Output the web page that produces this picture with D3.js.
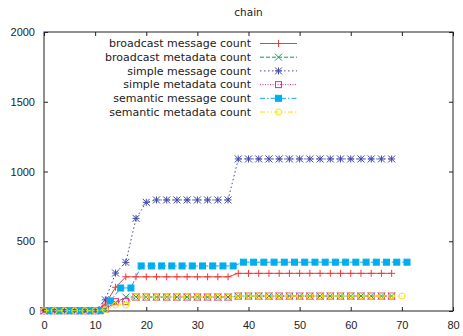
<!DOCTYPE html>
<html>
<head>
<meta charset="utf-8">
<script src="https://cdn.jsdelivr.net/npm/d3@7"></script>
<style>
  body { margin: 0; background: #fff; }
  svg { display: block; font-family: "DejaVu Sans", sans-serif; }
</style>
</head>
<body>
<svg id="chart" width="463" height="336"></svg>
<script>
const xTicks = [0, 10, 20, 30, 40, 50, 60, 70, 80];
const yTicks = [0, 500, 1000, 1500, 2000];

// sample times (even seconds for most series, odd for semantic messages)
const evenX = [0, 2, 4, 6, 8, 10, 12, 14, 16, 18, 20, 22, 24, 26, 28, 30, 32, 34,
  36, 38, 40, 42, 44, 46, 48, 50, 52, 54, 56, 58, 60, 62, 64, 66, 68];
const evenX70 = evenX.concat([70]);
const oddX = [1, 3, 5, 7, 9, 11, 13, 15, 17, 19, 21, 23, 25, 27, 29, 31, 33, 35,
  37, 39, 41, 43, 45, 47, 49, 51, 53, 55, 57, 59, 61, 63, 65, 67, 69, 71];

const broadcastMessage = [2, 2, 2, 2, 2, 2, 50, 170, 245, 245, 245, 245, 245, 245, 245, 245, 245, 245,
  245, 270, 270, 270, 270, 270, 270, 270, 270, 270, 270, 270, 270, 270, 270, 270, 270];
const broadcastMetadata = [2, 2, 2, 2, 2, 2, 15, 60, 100, 100, 100, 100, 100, 100, 100, 100, 100, 100,
  100, 107, 107, 107, 107, 107, 107, 107, 107, 107, 107, 107, 107, 107, 107, 107, 107];
const simpleMessage = [2, 2, 2, 2, 2, 2, 80, 272, 349, 664, 779, 796, 796, 796, 796, 796, 796, 796,
  796, 1090, 1090, 1090, 1090, 1090, 1090, 1090, 1090, 1090, 1090, 1090, 1090, 1090, 1090, 1090, 1090];
const simpleMetadata = [2, 2, 2, 2, 2, 2, 15, 67, 67, 100, 100, 100, 100, 100, 100, 100, 100, 100,
  100, 107, 107, 107, 107, 107, 107, 107, 107, 107, 107, 107, 107, 107, 107, 107, 107];
const semanticMessage = [2, 2, 2, 2, 2, 2, 72, 165, 165, 323, 323, 323, 323, 323, 323, 323, 323, 323,
  323, 350, 350, 350, 350, 350, 350, 350, 350, 350, 350, 350, 350, 350, 350, 350, 350, 350];
const semanticMetadata = [2, 2, 2, 2, 2, 2, 10, 43, 43, 100, 100, 100, 100, 100, 100, 100, 100, 100,
  100, 107, 107, 107, 107, 107, 107, 107, 107, 107, 107, 107, 107, 107, 107, 107, 107, 107];

const seriesNames = ['broadcast message count', 'broadcast metadata count', 'simple message count',
  'simple metadata count', 'semantic message count', 'semantic metadata count'];

const series = [
  { name: seriesNames[0], xs: evenX, ys: broadcastMessage, color: '#ef3b39', dash: null, mark: 'plus' },
  { name: seriesNames[1], xs: evenX, ys: broadcastMetadata, color: '#00a651', dash: '4,2', mark: 'cross' },
  { name: seriesNames[2], xs: evenX, ys: simpleMessage, color: '#3f48a8', dash: '1.5,2.5', mark: 'star' },
  { name: seriesNames[3], xs: evenX, ys: simpleMetadata, color: '#ec2a90', dash: '1,1.5', mark: 'square' },
  { name: seriesNames[4], xs: oddX, ys: semanticMessage, color: '#00aeef', dash: '5,2,1.5,2', mark: 'box' },
  { name: seriesNames[5], xs: evenX70, ys: semanticMetadata, color: '#f2e600', dash: '5,2,1.5,2,1.5,2', mark: 'circle' },
];

const svg = d3.select('#chart');
const margin = { left: 44, right: 10, top: 32, bottom: 25 };
const width = +svg.attr('width');
const height = +svg.attr('height');

const x = d3.scaleLinear().domain([0, 80]).range([margin.left, width - margin.right]);
const y = d3.scaleLinear().domain([0, 2000]).range([height - margin.bottom, margin.top]);

// title
svg.append('text')
  .attr('x', (x.range()[0] + x.range()[1]) / 2)
  .attr('y', 16)
  .attr('text-anchor', 'middle')
  .style('font-size', '10.5px')
  .attr('fill', '#222')
  .text('chain');

// axes, gnuplot style: inward ticks on all four sides
const styleAxis = (g) => {
  g.select('.domain').remove();
  g.selectAll('.tick line').attr('stroke', '#222');
  g.selectAll('.tick text').style('font-size', '11px').attr('fill', '#222');
};

svg.append('g')
  .attr('transform', `translate(0,${y(0)})`)
  .call(d3.axisBottom(x).tickValues(xTicks).tickSize(-4).tickPadding(10).tickFormat(d3.format('d')))
  .call(styleAxis);
svg.append('g')
  .attr('transform', `translate(0,${y(2000)})`)
  .call(d3.axisTop(x).tickValues(xTicks).tickSize(-4).tickFormat(''))
  .call(styleAxis);
svg.append('g')
  .attr('transform', `translate(${x(0)},0)`)
  .call(d3.axisLeft(y).tickValues(yTicks).tickSize(-4).tickPadding(9).tickFormat(d3.format('d')))
  .call(styleAxis);
svg.append('g')
  .attr('transform', `translate(${x(80)},0)`)
  .call(d3.axisRight(y).tickValues(yTicks).tickSize(-4).tickFormat(''))
  .call(styleAxis);

svg.append('rect')
  .attr('x', x(0))
  .attr('y', y(2000))
  .attr('width', x(80) - x(0))
  .attr('height', y(0) - y(2000))
  .attr('fill', 'none')
  .attr('stroke', '#222')
  .attr('stroke-width', 1);

// point symbols
const s = 3.5;
function drawMark(g, kind, color, cx, cy) {
  if (kind === 'plus' || kind === 'star') {
    g.append('path').attr('d', `M${cx - s},${cy}H${cx + s}M${cx},${cy - s}V${cy + s}`)
      .attr('stroke', color).attr('fill', 'none');
  }
  if (kind === 'cross' || kind === 'star') {
    g.append('path').attr('d', `M${cx - s},${cy - s}L${cx + s},${cy + s}M${cx - s},${cy + s}L${cx + s},${cy - s}`)
      .attr('stroke', color).attr('fill', 'none');
  }
  if (kind === 'square' || kind === 'box') {
    g.append('rect')
      .attr('x', cx - s + 0.5).attr('y', cy - s + 0.5)
      .attr('width', 2 * s - 1).attr('height', 2 * s - 1)
      .attr('stroke', color)
      .attr('fill', kind === 'box' ? color : 'none');
  }
  if (kind === 'circle') {
    g.append('circle').attr('cx', cx).attr('cy', cy).attr('r', s - 0.5)
      .attr('stroke', color).attr('fill', 'none');
  }
}

const line = d3.line().x(d => x(d[0])).y(d => y(d[1]));
const plot = svg.append('g');

series.forEach((d) => {
  const pts = d.xs.map((v, i) => [v, d.ys[i]]);
  const g = plot.append('g');
  g.append('path')
    .attr('d', line(pts))
    .attr('fill', 'none')
    .attr('stroke', d.color)
    .attr('stroke-width', 1)
    .attr('stroke-dasharray', d.dash);
  pts.forEach(p => drawMark(g, d.mark, d.color, x(p[0]), y(p[1])));
});

// legend
const legend = svg.append('g');
series.forEach((d, i) => {
  const ly = 43.5 + i * 13.7;
  legend.append('text')
    .attr('x', 251)
    .attr('y', ly)
    .attr('dy', '0.35em')
    .attr('text-anchor', 'end')
    .style('font-size', '11px')
    .attr('fill', '#222')
    .text(d.name);
  legend.append('path')
    .attr('d', `M260,${ly}H297`)
    .attr('stroke', d.color)
    .attr('stroke-dasharray', d.dash)
    .attr('fill', 'none');
  drawMark(legend, d.mark, d.color, 278.5, ly);
});
</script>
</body>
</html>
